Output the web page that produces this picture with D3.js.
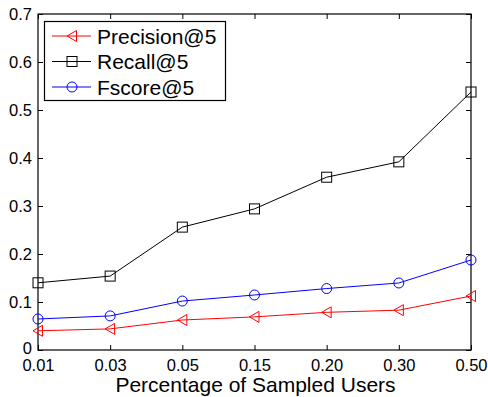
<!DOCTYPE html>
<html>
<head>
<meta charset="utf-8">
<script src="https://cdn.jsdelivr.net/npm/d3@7"></script>
<style>
  body { margin: 0; background: #fff; }
  text { font-family: "Liberation Sans", Arial, sans-serif; fill: #000; }
</style>
</head>
<body>
<div id="chart"></div>
<script>
var categories = ['0.01', '0.03', '0.05', '0.15', '0.20', '0.30', '0.50'];
var precision = [0.040, 0.044, 0.0625, 0.069, 0.0785, 0.083, 0.1125];
var recall = [0.140, 0.154, 0.256, 0.294, 0.360, 0.392, 0.5375];
var fscore = [0.0646, 0.071, 0.102, 0.1146, 0.128, 0.1396, 0.1875];
var yTicks = [0, 0.1, 0.2, 0.3, 0.4, 0.5, 0.6, 0.7];
var seriesNames = ['Precision@5', 'Recall@5', 'Fscore@5'];

var width = 488, height = 397;
var margin = { top: 14, right: 17, bottom: 47, left: 38 };

var svg = d3.select('#chart').append('svg')
    .attr('width', width)
    .attr('height', height);

var x = d3.scalePoint()
    .domain(categories)
    .range([margin.left, width - margin.right])
    .padding(0);

var y = d3.scaleLinear()
    .domain([0, 0.7])
    .range([height - margin.bottom, margin.top]);

var x0 = margin.left, x1 = width - margin.right;
var y0 = height - margin.bottom, y1 = margin.top;

// axes (MATLAB style: box on, ticks inside)
var tickLen = 5;
svg.append('g')
    .attr('transform', 'translate(0,' + y0 + ')')
    .call(d3.axisBottom(x).tickSizeInner(-tickLen).tickSizeOuter(0).tickPadding(9))
    .call(function (g) {
        g.select('.domain').remove();
        g.selectAll('text').attr('font-size', 16.5).attr('font-family', '"Liberation Sans", Arial, sans-serif');
    });
svg.append('g')
    .attr('transform', 'translate(0,' + y1 + ')')
    .call(d3.axisTop(x).tickSizeInner(-tickLen).tickSizeOuter(0).tickFormat(''))
    .call(function (g) { g.select('.domain').remove(); });
svg.append('g')
    .attr('transform', 'translate(' + x0 + ',0)')
    .call(d3.axisLeft(y).tickValues(yTicks).tickFormat(function (d) { return d === 0 ? '0' : d3.format('.1f')(d); })
        .tickSizeInner(-tickLen).tickSizeOuter(0).tickPadding(6))
    .call(function (g) {
        g.select('.domain').remove();
        g.selectAll('text').attr('font-size', 16.5).attr('font-family', '"Liberation Sans", Arial, sans-serif');
        // keep the "0" label clear of the first x label
        g.selectAll('text').filter(function (d) { return d === 0; }).attr('dy', '0.2em');
    });
svg.append('g')
    .attr('transform', 'translate(' + x1 + ',0)')
    .call(d3.axisRight(y).tickValues(yTicks).tickSizeInner(-tickLen).tickSizeOuter(0).tickFormat(''))
    .call(function (g) { g.select('.domain').remove(); });

svg.selectAll('.tick line').attr('stroke', '#000');

svg.append('rect')
    .attr('x', x0).attr('y', y1)
    .attr('width', x1 - x0).attr('height', y0 - y1)
    .attr('fill', 'none')
    .attr('stroke', '#000')
    .attr('stroke-width', 1.2);

svg.append('text')
    .attr('x', (x0 + x1) / 2 + 1)
    .attr('y', 392)
    .attr('text-anchor', 'middle')
    .attr('font-size', 21)
    .text('Percentage of Sampled Users');

// series
var series = [
    { name: seriesNames[0], values: precision, color: '#ff0000', marker: 'tri' },
    { name: seriesNames[1], values: recall, color: '#000000', marker: 'sq' },
    { name: seriesNames[2], values: fscore, color: '#0000ff', marker: 'circ' }
];

function drawMarker(g, type, color) {
    if (type === 'tri') {
        g.append('path').attr('d', 'M-5,0L4.5,-5.5L4.5,5.5Z');
    } else if (type === 'sq') {
        g.append('rect').attr('x', -5).attr('y', -5).attr('width', 10).attr('height', 10);
    } else {
        g.append('circle').attr('r', 5);
    }
    g.selectAll('*').attr('fill', 'none').attr('stroke', color).attr('stroke-width', 1);
}

var line = d3.line()
    .x(function (d, i) { return x(categories[i]); })
    .y(function (d) { return y(d); });

series.forEach(function (s) {
    svg.append('path')
        .datum(s.values)
        .attr('d', line)
        .attr('fill', 'none')
        .attr('stroke', s.color)
        .attr('stroke-width', 1);
    s.values.forEach(function (v, i) {
        var g = svg.append('g').attr('transform', 'translate(' + x(categories[i]) + ',' + y(v) + ')');
        drawMarker(g, s.marker, s.color);
    });
});

// legend
var legend = svg.append('g');
legend.append('rect')
    .attr('x', 44.5).attr('y', 21.5)
    .attr('width', 181).attr('height', 79)
    .attr('fill', '#fff')
    .attr('stroke', '#000')
    .attr('stroke-width', 1.2);
series.forEach(function (s, i) {
    var ly = 36 + i * 25.5;
    legend.append('line')
        .attr('x1', 52).attr('x2', 91)
        .attr('y1', ly).attr('y2', ly)
        .attr('stroke', s.color).attr('stroke-width', 1);
    var g = legend.append('g').attr('transform', 'translate(72,' + ly + ')');
    drawMarker(g, s.marker, s.color);
    legend.append('text')
        .attr('x', 97).attr('y', ly + 7.5)
        .attr('font-size', 21)
        .text(s.name);
});
</script>
</body>
</html>
